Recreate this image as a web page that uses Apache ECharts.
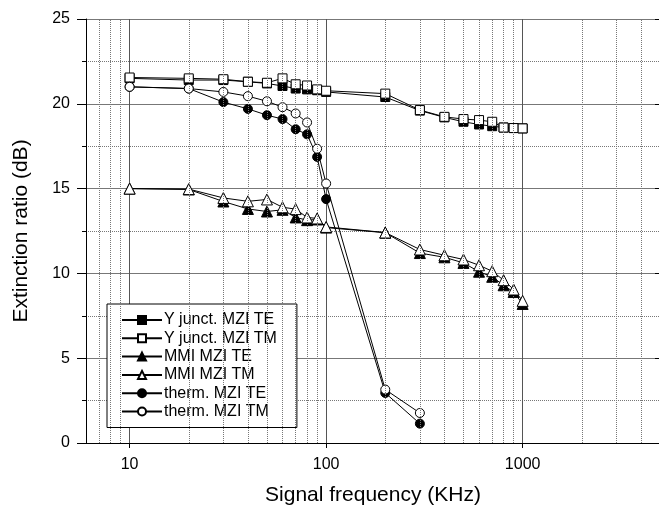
<!DOCTYPE html>
<html>
	<head>
		<meta charset="utf-8">
		<title>Extinction ratio</title>
		<style>
			html, body { margin: 0; padding: 0; background: #fff; }
			#main { width: 659px; height: 506px; }
		</style>
	</head>
	<body>
		<div id="main"></div>
		<script src="https://cdn.jsdelivr.net/npm/echarts@6/dist/echarts.min.js"></script>
		<script type="text/javascript">
			// frequencies (KHz)
			var freqs = [10, 20, 30, 40, 50, 60, 70, 80, 90, 100, 200, 300, 400, 500, 600, 700, 800, 900, 1000];
			var thermFreqs = [10, 20, 30, 40, 50, 60, 70, 80, 90, 100, 200, 300];

			// extinction ratio (dB)
			var yJunctTE = [21.5, 21.4, 21.4, 21.3, 21.2, 21.05, 20.9, 20.85, 20.8, 20.7, 20.4, 19.6, 19.2, 18.94, 18.78, 18.68, 18.6, 18.57, 18.55];
			var yJunctTM = [21.55, 21.5, 21.45, 21.3, 21.24, 21.5, 21.15, 21.08, 20.85, 20.77, 20.6, 19.63, 19.23, 19.1, 19.04, 18.94, 18.6, 18.57, 18.55];
			var mmiTE = [15.0, 14.95, 14.24, 13.8, 13.65, 13.75, 13.3, 13.14, 13.18, 12.7, 12.4, 11.2, 10.95, 10.62, 10.1, 9.8, 9.3, 8.9, 8.2];
			var mmiTM = [15.0, 14.97, 14.45, 14.25, 14.36, 13.9, 13.79, 13.3, 13.24, 12.74, 12.41, 11.41, 11.07, 10.82, 10.48, 10.13, 9.6, 9.05, 8.38];
			var thermTE = [21.0, 20.9, 20.1, 19.7, 19.33, 19.1, 18.5, 18.2, 16.87, 14.38, 2.95, 1.14];
			var thermTM = [21.0, 20.9, 20.7, 20.45, 20.15, 19.8, 19.43, 18.9, 17.35, 15.3, 3.15, 1.77];

			// dotted vertical grid lines (log minor positions)
			var minorX = [7, 8, 9, 20, 30, 40, 50, 60, 70, 80, 90, 200, 300, 400, 500, 600, 700, 800, 900, 2000, 3000, 4000];

			var font = 'Liberation Sans, Arial, Helvetica, sans-serif';

			function pairs(xs, ys) {
				var arr = [];
				for (var i = 0; i < ys.length; i++) {
					arr.push([xs[i], ys[i]]);
				}
				return arr;
			}

			function mkSeries(name, xs, ys, symbol, size, filled) {
				return {
					name: name,
					type: 'line',
					data: pairs(xs, ys),
					symbol: symbol,
					symbolSize: size,
					showAllSymbol: true,
					lineStyle: { color: '#000', width: 1 },
					itemStyle: {
						color: filled ? '#000' : '#fff',
						borderColor: '#000',
						borderWidth: 1
					},
					emphasis: { disabled: true },
					animation: false
				};
			}

			var gridSeries = {
				name: 'grid',
				type: 'line',
				data: [],
				z: 1,
				silent: true,
				markLine: {
					silent: true,
					symbol: ['none', 'none'],
					label: { show: false },
					lineStyle: { color: '#777', width: 1, type: [1, 1] },
					animation: false,
					data: minorX.map(function (v) { return { xAxis: v }; })
				}
			};

			var myChart = echarts.init(document.getElementById('main'));
			var option = {
				backgroundColor: '#fff',
				animation: false,
				grid: { left: 86, top: 19, width: 574, height: 424, containLabel: false, outerBoundsMode: 'none' },
				legend: {
					orient: 'vertical',
					left: 107,
					top: 304,
					padding: [8, 20, 8, 14],
					itemWidth: 40,
					itemHeight: 10,
					itemGap: 2.3,
					backgroundColor: '#fff',
					borderColor: '#000',
					borderWidth: 1,
					borderRadius: 0,
					textStyle: { fontFamily: font, fontSize: 16, color: '#000', padding: [0, 0, 0, -3] },
					data: ['Y junct. MZI TE', 'Y junct. MZI TM', 'MMI MZI TE', 'MMI MZI TM', 'therm. MZI TE', 'therm. MZI TM']
				},
				xAxis: [{
					type: 'log',
					logBase: 10,
					min: 6,
					max: 5000,
					name: 'Signal frequency (KHz)',
					nameLocation: 'middle',
					nameGap: 42,
					nameTextStyle: { fontFamily: font, fontSize: 21, color: '#000' },
					axisLine: { lineStyle: { color: '#000', width: 1 } },
					axisTick: { show: true, length: 5, lineStyle: { color: '#000' } },
					axisLabel: {
						fontFamily: font, fontSize: 16, color: '#000', margin: 14,
						showMinLabel: false, showMaxLabel: false,
						formatter: function (v) { return String(Math.round(v)); }
					},
					splitLine: { show: true, lineStyle: { color: '#555', width: 1 } }
				}, {
					type: 'log',
					logBase: 10,
					min: 6,
					max: 5000,
					position: 'top',
					axisLine: { lineStyle: { color: '#000', width: 1 } },
					axisTick: { show: false },
					axisLabel: { show: false },
					splitLine: { show: false }
				}],
				yAxis: [{
					type: 'value',
					min: 0,
					max: 25,
					interval: 5,
					name: 'Extinction ratio (dB)',
					nameLocation: 'middle',
					nameGap: 54,
					nameTextStyle: { fontFamily: font, fontSize: 21, color: '#000' },
					axisLine: { show: true, lineStyle: { color: '#000', width: 1 } },
					axisTick: { show: true, length: 9, lineStyle: { color: '#000' } },
					minorTick: { show: true, splitNumber: 2, length: 4, lineStyle: { color: '#000' } },
					axisLabel: { fontFamily: font, fontSize: 16, color: '#000', margin: 16 },
					splitLine: { show: true, lineStyle: { color: '#777', width: 1 } },
					minorSplitLine: { show: true, lineStyle: { color: '#777', width: 1, type: [1, 1] } }
				}, {
					type: 'value',
					min: 0,
					max: 25,
					interval: 5,
					position: 'right',
					axisLine: { show: true, lineStyle: { color: '#000', width: 1 } },
					axisTick: { show: true, inside: true, length: 5, lineStyle: { color: '#000' } },
					axisLabel: { show: false },
					splitLine: { show: false }
				}],
				series: [
					gridSeries,
					mkSeries('Y junct. MZI TE', freqs, yJunctTE, 'rect', 9, true),
					mkSeries('Y junct. MZI TM', freqs, yJunctTM, 'rect', 9, false),
					mkSeries('MMI MZI TE', freqs, mmiTE, 'triangle', 11, true),
					mkSeries('MMI MZI TM', freqs, mmiTM, 'triangle', 11, false),
					mkSeries('therm. MZI TE', thermFreqs, thermTE, 'circle', 9, true),
					mkSeries('therm. MZI TM', thermFreqs, thermTM, 'circle', 9, false)
				]
			};
			myChart.setOption(option);
		</script>
	</body>
</html>
